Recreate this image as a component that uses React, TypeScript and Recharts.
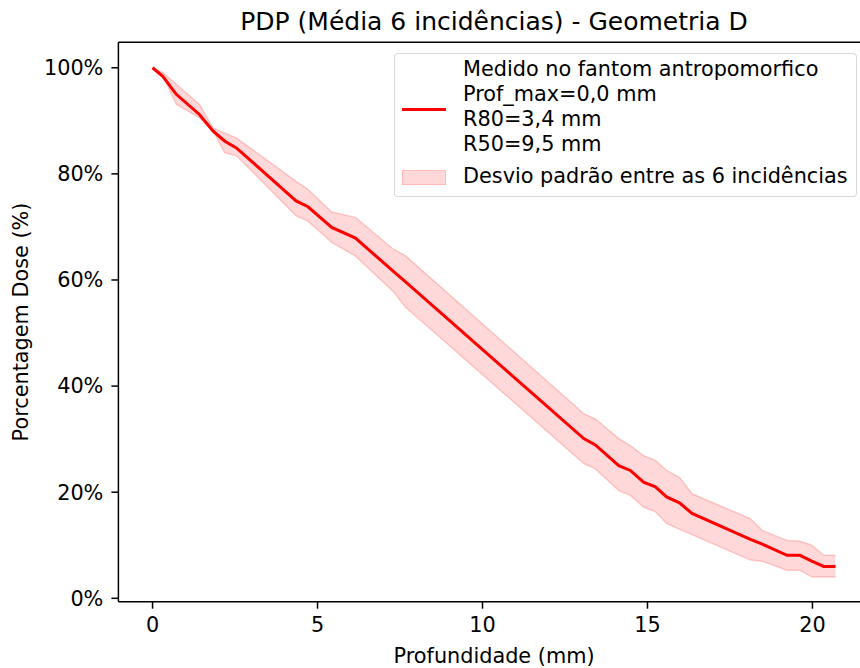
import React from 'react';
import { ComposedChart, Line, Area, XAxis, YAxis, ReferenceLine, Label } from 'recharts';

// Profundidade (mm)
const depth = [0, 0.31, 0.72, 1.42, 1.83, 2.18, 2.54, 4.35, 4.71, 5.43, 6.15, 7.3, 7.66, 13.07, 13.42, 14.13, 14.48, 14.88, 15.24, 15.58, 15.97, 16.35, 18.12, 18.48, 19.23, 19.62, 19.98, 20.34, 20.7];
// Média das 6 incidências (%)
const mean = [100, 98.4, 95.0, 91.2, 88.1, 86.2, 84.9, 74.9, 73.8, 69.9, 67.9, 61.6, 59.7, 30.1, 28.9, 25.0, 24.1, 21.9, 21.0, 19.1, 18.0, 16.0, 11.1, 10.2, 8.1, 8.1, 7.0, 6.0, 6.0];
// Limite superior (média + desvio)
const upper = [100, 99.1, 96.9, 93.1, 88.7, 87.7, 86.8, 78.6, 77.1, 72.8, 71.8, 65.8, 64.6, 34.8, 33.8, 30.1, 28.8, 26.9, 26.0, 24.1, 22.8, 19.7, 15.0, 12.8, 10.9, 10.8, 10.0, 8.1, 8.1];
// Limite inferior (média - desvio)
const lower = [100, 98.5, 93.1, 90.6, 88.2, 84.0, 83.4, 72.1, 71.1, 67.1, 64.5, 57.8, 54.9, 25.4, 24.4, 20.3, 19.4, 17.2, 16.3, 14.1, 13.0, 12.0, 7.2, 7.0, 5.3, 5.3, 4.0, 4.0, 4.0];

const xTicks = [0, 5, 10, 15, 20];
const yTicks = [0, 20, 40, 60, 80, 100];
const title = 'PDP (Média 6 incidências) - Geometria D';
const xLabel = 'Profundidade (mm)';
const yLabel = 'Porcentagem Dose (%)';
const legendLine = ['Medido no fantom antropomorfico', 'Prof_max=0,0 mm', 'R80=3,4 mm', 'R50=9,5 mm'];
const legendBand = 'Desvio padrão entre as 6 incidências';

const X_DOMAIN: [number, number] = [-1.035, 21.735];
const Y_DOMAIN: [number, number] = [-0.64, 104.8];

const data = depth.map((d, i) => ({ depth: d, mean: mean[i], band: [lower[i], upper[i]] }));

const FONT = '"DejaVu Sans", sans-serif';
const FS = 20.8;

export default function App() {
  const tickStyle = { fontSize: FS, fill: '#000', fontFamily: FONT };
  return (
    <div style={{ position: 'absolute', left: 0, top: 0, width: 860, height: 668, overflow: 'hidden', background: '#fff', fontFamily: FONT }}>
      <div style={{ position: 'absolute', left: 0, top: 7.1, width: 988, textAlign: 'center', fontSize: 25, color: '#000', whiteSpace: 'nowrap' }}>{title}</div>
      <ComposedChart width={900} height={668} data={data} margin={{ top: 42.3, right: 30.3, left: 0, bottom: 0 }}>
        <XAxis
          dataKey="depth"
          type="number"
          domain={X_DOMAIN}
          allowDataOverflow
          ticks={xTicks}
          height={66.3}
          tick={tickStyle}
          tickSize={7}
          tickMargin={8.5}
          stroke="#000"
          strokeWidth={1.5}
        >
          <Label value={xLabel} position="insideBottom" offset={5} style={{ fontSize: FS, fill: '#000', fontFamily: FONT }} />
        </XAxis>
        <YAxis
          type="number"
          domain={Y_DOMAIN}
          allowDataOverflow
          ticks={yTicks}
          width={118.4}
          tick={tickStyle}
          tickSize={7}
          tickMargin={8}
          tickFormatter={(v: number) => `${v}%`}
          stroke="#000"
          strokeWidth={1.5}
        >
          <Label
            content={() => (
              <text x={28} y={322} transform="rotate(-90, 28, 322)" textAnchor="middle" style={{ fontSize: FS, fill: '#000', fontFamily: FONT }}>
                {yLabel}
              </text>
            )}
          />
        </YAxis>
        <ReferenceLine y={Y_DOMAIN[1]} stroke="#000" strokeWidth={1.5} ifOverflow="visible" />
        <Area
          dataKey="band"
          type="linear"
          fill="#ff0000"
          fillOpacity={0.15}
          stroke="#ff0000"
          strokeOpacity={0.18}
          strokeWidth={1.5}
          isAnimationActive={false}
          dot={false}
          activeDot={false}
        />
        <Line dataKey="mean" type="linear" stroke="#ff0000" strokeWidth={3} dot={false} activeDot={false} isAnimationActive={false} />
      </ComposedChart>
      <div
        style={{
          position: 'absolute',
          left: 394,
          top: 52.7,
          width: 463,
          height: 144.5,
          boxSizing: 'border-box',
          border: '1px solid rgba(214,214,214,0.9)',
          borderRadius: 4,
          background: 'rgba(255,255,255,0.8)',
          color: '#000',
          fontSize: FS,
        }}
      >
        <div style={{ position: 'absolute', left: 7, top: 54, width: 44, height: 3, background: '#ff0000' }} />
        <div style={{ position: 'absolute', left: 7, top: 116, width: 44, height: 15, boxSizing: 'border-box', background: 'rgba(255,0,0,0.15)', border: '1.5px solid rgba(255,0,0,0.15)' }} />
        <div style={{ position: 'absolute', left: 68, top: 3.6, lineHeight: '25px', whiteSpace: 'nowrap' }}>
          {legendLine.map((t) => (
            <div key={t}>{t}</div>
          ))}
        </div>
        <div style={{ position: 'absolute', left: 68, top: 110.3, lineHeight: '25px', whiteSpace: 'nowrap' }}>{legendBand}</div>
      </div>
    </div>
  );
}
